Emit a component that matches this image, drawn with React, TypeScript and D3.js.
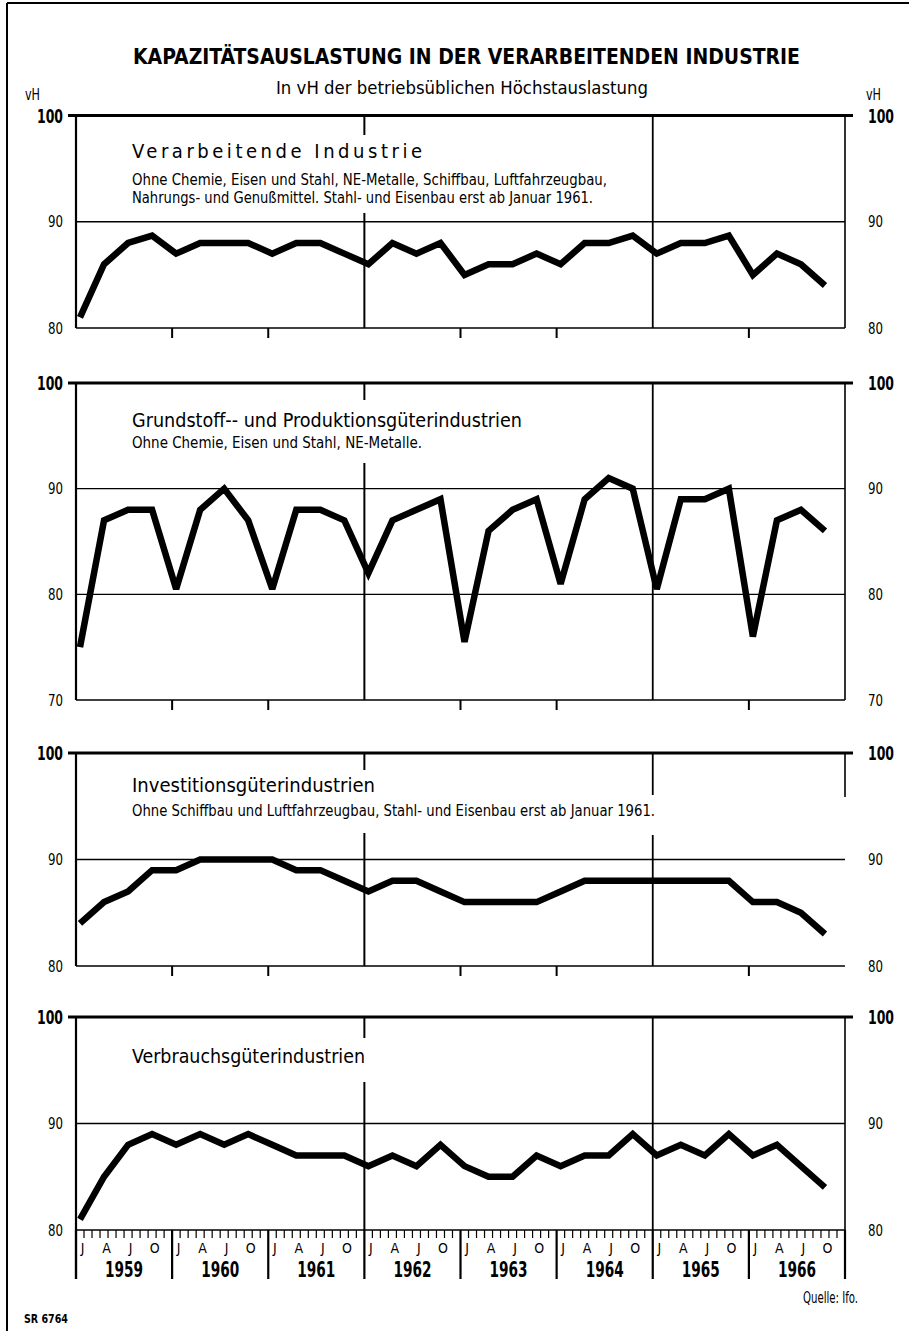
import React from "react";
import * as d3 from "d3";

// ---------- data ----------
const years = ["1959", "1960", "1961", "1962", "1963", "1964", "1965", "1966"];
const quarterLabels = ["J", "A", "J", "O"];

const verarbeitende = [81, 86, 88, 88.7, 87, 88, 88, 88, 87, 88, 88, 87, 86, 88, 87, 88, 85, 86, 86, 87, 86, 88, 88, 88.7, 87, 88, 88, 88.7, 85, 87, 86, 84];
const grundstoff = [75, 87, 88, 88, 80.5, 88, 90, 87, 80.5, 88, 88, 87, 82, 87, 88, 89, 75.5, 86, 88, 89, 81, 89, 91, 90, 80.5, 89, 89, 90, 76, 87, 88, 86];
const investition = [84, 86, 87, 89, 89, 90, 90, 90, 90, 89, 89, 88, 87, 88, 88, 87, 86, 86, 86, 86, 87, 88, 88, 88, 88, 88, 88, 88, 86, 86, 85, 83];
const verbrauch = [81, 85, 88, 89, 88, 89, 88, 89, 88, 87, 87, 87, 86, 87, 86, 88, 86, 85, 85, 87, 86, 87, 87, 89, 87, 88, 87, 89, 87, 88, 86, 84];

const panelTitles = [
  "Verarbeitende Industrie",
  "Grundstoff-- und Produktionsgüterindustrien",
  "Investitionsgüterindustrien",
  "Verbrauchsgüterindustrien",
];
const panelNotes = [
  [
    "Ohne Chemie, Eisen und Stahl, NE-Metalle, Schiffbau, Luftfahrzeugbau,",
    "Nahrungs- und Genußmittel. Stahl- und Eisenbau erst ab Januar 1961.",
  ],
  ["Ohne Chemie, Eisen und Stahl, NE-Metalle."],
  ["Ohne Schiffbau und Luftfahrzeugbau, Stahl- und Eisenbau erst ab Januar 1961."],
  [],
];
const panelDomains = [
  [80, 100],
  [70, 100],
  [80, 100],
  [80, 100],
];
const panelTicks = [
  [80, 90, 100],
  [70, 80, 90, 100],
  [80, 90, 100],
  [80, 90, 100],
];
const series = [verarbeitende, grundstoff, investition, verbrauch];

// ---------- layout ----------
const W = 909;
const H = 1331;
const X0 = 76;
const X1 = 845;
const FONT = "'Liberation Sans Narrow', 'DejaVu Sans Condensed', 'Liberation Sans', Arial, sans-serif";

const layout = [
  {
    top: 115.5, bottom: 328,
    titleY: 158, titleLen: 290, titleSpacing: true,
    notesY: [185, 203], notesLen: [475, 461],
    gap1962: [135, 213], gap1965: null as null | number[], rightPartial: null as null | number,
  },
  {
    top: 383, bottom: 700,
    titleY: 427, titleLen: 390, titleSpacing: false,
    notesY: [448], notesLen: [290],
    gap1962: [400, 463], gap1965: null, rightPartial: null,
  },
  {
    top: 753, bottom: 966,
    titleY: 792, titleLen: 243, titleSpacing: false,
    notesY: [816], notesLen: [523],
    gap1962: [770, 833], gap1965: [795, 835], rightPartial: 797,
  },
  {
    top: 1017, bottom: 1230,
    titleY: 1063, titleLen: 233, titleSpacing: false,
    notesY: [], notesLen: [],
    gap1962: [1038, 1082], gap1965: null, rightPartial: null,
  },
];

const xMonth = d3.scaleLinear().domain([0, years.length * 12]).range([X0, X1]);
const xIndex = (i: number) => xMonth(i * 3 + 0.5);

function Panel({ p }: { p: number }) {
  const L = layout[p];
  const dom = panelDomains[p];
  const y = d3.scaleLinear().domain(dom).range([L.bottom, L.top]);
  const line = d3
    .line<number>()
    .x((_, i) => xIndex(i))
    .y((d) => y(d));
  const data = series[p];
  const x1962 = xMonth(3 * 12);
  const x1965 = xMonth(6 * 12);
  const tickYears = [1, 2, 4, 5, 7];
  const isLast = p === 3;
  return (
    <g>
      {panelTicks[p]
        .filter((t) => t !== dom[0] && t !== dom[1])
        .map((t) => (
          <line key={"g" + t} x1={X0} x2={X1} y1={y(t)} y2={y(t)} stroke="#000" strokeWidth={1.4} />
        ))}
      <line x1={X0} x2={X1} y1={y(dom[0])} y2={y(dom[0])} stroke="#000" strokeWidth={1.4} />
      <line x1={X0 - 8} x2={X1 + 8} y1={y(dom[1])} y2={y(dom[1])} stroke="#000" strokeWidth={3} />
      <line x1={X0} x2={X0} y1={y(dom[1])} y2={isLast ? 1279 : y(dom[0])} stroke="#000" strokeWidth={2.2} />
      <line
        x1={X1}
        x2={X1}
        y1={y(dom[1])}
        y2={L.rightPartial ?? (isLast ? 1279 : y(dom[0]))}
        stroke="#000"
        strokeWidth={1.6}
      />
      <line x1={x1962} x2={x1962} y1={y(dom[1])} y2={L.gap1962[0]} stroke="#000" strokeWidth={2} />
      <line x1={x1962} x2={x1962} y1={L.gap1962[1]} y2={y(dom[0])} stroke="#000" strokeWidth={2} />
      {L.gap1965 ? (
        <>
          <line x1={x1965} x2={x1965} y1={y(dom[1])} y2={L.gap1965[0]} stroke="#000" strokeWidth={1.8} />
          <line x1={x1965} x2={x1965} y1={L.gap1965[1]} y2={y(dom[0])} stroke="#000" strokeWidth={1.8} />
        </>
      ) : (
        <line x1={x1965} x2={x1965} y1={y(dom[1])} y2={y(dom[0])} stroke="#000" strokeWidth={1.8} />
      )}
      {!isLast &&
        tickYears.map((k) => (
          <line
            key={"t" + k}
            x1={xMonth(k * 12)}
            x2={xMonth(k * 12)}
            y1={y(dom[0])}
            y2={y(dom[0]) + 10}
            stroke="#000"
            strokeWidth={2}
          />
        ))}
      {panelTicks[p].map((t) => {
        const big = t === 100;
        const len = big ? 26 : 15;
        const fs = big ? 20 : 15;
        const dy = big ? 7 : 5.5;
        return (
          <g key={"l" + t} fontFamily={FONT} fontSize={fs} fontWeight={big ? 700 : 400}>
            <text x={63 - len} y={y(t) + dy} textLength={len} lengthAdjust="spacingAndGlyphs">
              {t}
            </text>
            <text x={868} y={y(t) + dy} textLength={len} lengthAdjust="spacingAndGlyphs">
              {t}
            </text>
          </g>
        );
      })}
      <text
        x={132}
        y={L.titleY}
        fontFamily={FONT}
        fontSize={20}
        textLength={L.titleLen}
        lengthAdjust={L.titleSpacing ? "spacing" : "spacingAndGlyphs"}
      >
        {panelTitles[p]}
      </text>
      {panelNotes[p].map((n, k) => (
        <text
          key={"n" + k}
          x={132}
          y={L.notesY[k]}
          fontFamily={FONT}
          fontSize={15}
          textLength={L.notesLen[k]}
          lengthAdjust="spacingAndGlyphs"
        >
          {n}
        </text>
      ))}
      <path d={line(data) ?? ""} fill="none" stroke="#000" strokeWidth={6.5} strokeLinejoin="miter" strokeMiterlimit={3} />
    </g>
  );
}

function BottomAxis() {
  const yAxis = 1230;
  const months = d3.range(0, years.length * 12 + 1);
  return (
    <g fontFamily={FONT}>
      {months.map((m) => (
        <line
          key={"m" + m}
          x1={xMonth(m)}
          x2={xMonth(m)}
          y1={yAxis}
          y2={m % 12 === 0 ? 1279 : yAxis + 8}
          stroke="#000"
          strokeWidth={m % 12 === 0 ? 2.2 : 1.2}
        />
      ))}
      {years.map((yr, k) => (
        <g key={yr}>
          {quarterLabels.map((q, j) => (
            <text
              key={j}
              x={xMonth(k * 12 + j * 3 + 0.5) + 2.5}
              y={1253}
              fontSize={14}
              textAnchor="middle"
            >
              {q}
            </text>
          ))}
          <text
            x={xMonth(k * 12 + 6) - 19}
            y={1277}
            fontSize={21}
            fontWeight={700}
            textLength={38}
            lengthAdjust="spacingAndGlyphs"
          >
            {yr}
          </text>
        </g>
      ))}
    </g>
  );
}

export default function App() {
  return (
    <svg width={W} height={H} style={{ display: "block", position: "absolute", left: 0, top: 0 }} fill="#000">
      <rect x={0} y={0} width={W} height={H} fill="#fff" />
      <line x1={7} x2={W} y1={3} y2={3} stroke="#000" strokeWidth={2} />
      <line x1={7} x2={7} y1={3} y2={H} stroke="#000" strokeWidth={2} />
      <text x={133} y={64} fontFamily={FONT} fontSize={21} fontWeight={700} textLength={667} lengthAdjust="spacingAndGlyphs">
        KAPAZITÄTSAUSLASTUNG IN DER VERARBEITENDEN INDUSTRIE
      </text>
      <text x={276} y={94} fontFamily={FONT} fontSize={18} textLength={372} lengthAdjust="spacingAndGlyphs">
        In vH der betriebsüblichen Höchstauslastung
      </text>
      <text x={25} y={100} fontFamily={FONT} fontSize={15} textLength={15} lengthAdjust="spacingAndGlyphs">
        vH
      </text>
      <text x={866} y={100} fontFamily={FONT} fontSize={15} textLength={15} lengthAdjust="spacingAndGlyphs">
        vH
      </text>
      {layout.map((_, p) => (
        <Panel key={p} p={p} />
      ))}
      <BottomAxis />
      <text x={803} y={1303} fontFamily={FONT} fontSize={16} textLength={55} lengthAdjust="spacingAndGlyphs">
        Quelle: Ifo.
      </text>
      <text x={24} y={1323} fontFamily={FONT} fontSize={13} fontWeight={700} textLength={44} lengthAdjust="spacingAndGlyphs">
        SR 6764
      </text>
    </svg>
  );
}
